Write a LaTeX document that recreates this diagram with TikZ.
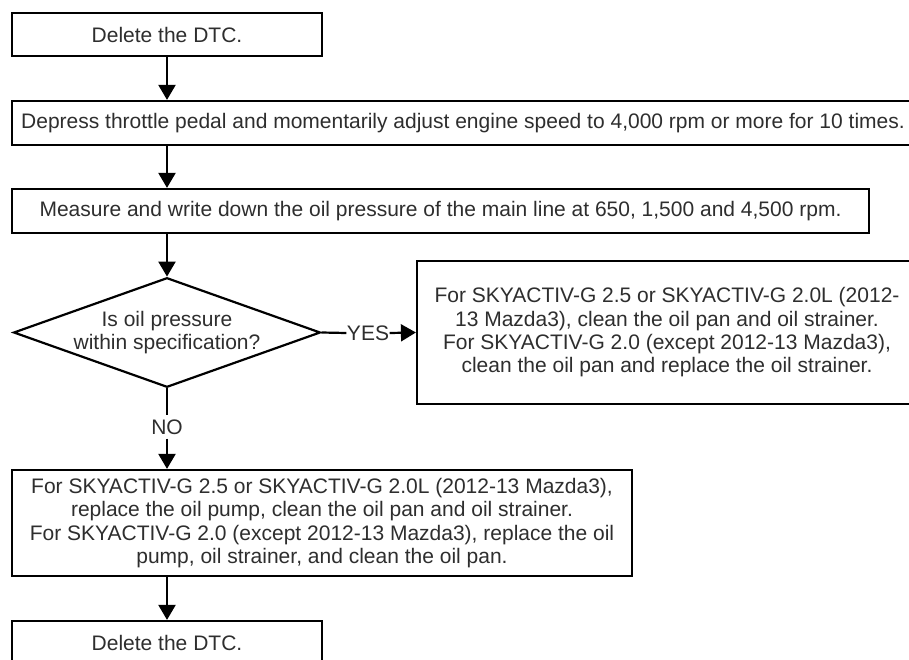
\documentclass[tikz,border=0pt]{standalone}
\usepackage{fontspec}
\setmainfont{Liberation Sans}
\usetikzlibrary{arrows.meta,shapes.geometric}
\definecolor{txt}{HTML}{2E2E2E}
\tikzset{
  every node/.style={font=\fontsize{21}{23.3}\selectfont, text=txt},
  stepbox/.style={draw=black, line width=2.2pt, rectangle, inner sep=0pt, align=center},
  decision/.style={draw=black, line width=2.2pt, diamond, inner sep=0pt, align=center, minimum width=306pt, minimum height=109pt, aspect=2.8},
  flow/.style={draw=black, line width=2.2pt, -{Triangle[width=17pt,length=15pt]}},
  plain/.style={draw=black, line width=2.2pt},
  lbl/.style={inner sep=0.5pt},
  nolbl/.style={inner sep=4pt}
}
\begin{document}
\begin{tikzpicture}[x=1pt,y=-1pt]
\useasboundingbox (0,0) rectangle (909,660);
\clip (0,0) rectangle (909,660);
\fill[white] (0,0) rectangle (909,660);

\node[stepbox, minimum width=310pt, minimum height=43pt] (b1) at (167,34.5) {Delete the DTC.};
\node[stepbox, minimum width=902pt, minimum height=44pt] (b2) at (463,123) {Depress throttle pedal and momentarily adjust engine speed to 4,000 rpm or more for 10 times.};
\node[stepbox, minimum width=857pt, minimum height=44pt] (b3) at (440.5,211) {Measure and write down the oil pressure of the main line at 650, 1,500 and 4,500 rpm.};
\node[decision] (d) at (167,332.5) {Is oil pressure\\within specification?};
\node[lbl] (yes) at (368,333) {YES};
\node[stepbox, minimum width=500pt, minimum height=143pt] (r) at (667,332.5) {For SKYACTIV-G 2.5 or SKYACTIV-G 2.0L (2012-\\13 Mazda3), clean the oil pan and oil strainer.\\For SKYACTIV-G 2.0 (except 2012-13 Mazda3),\\clean the oil pan and replace the oil strainer.};
\node[nolbl] (no) at (167,427) {NO};
\node[stepbox, minimum width=620pt, minimum height=106pt] (b4) at (322,523) {For SKYACTIV-G 2.5 or SKYACTIV-G 2.0L (2012-13 Mazda3),\\replace the oil pump, clean the oil pan and oil strainer.\\For SKYACTIV-G 2.0 (except 2012-13 Mazda3), replace the oil\\pump, oil strainer, and clean the oil pan.};
\node[stepbox, minimum width=310pt, minimum height=43pt] (b5) at (167,642.5) {Delete the DTC.};

\draw[flow] (b1.south) -- (b2.north -| b1.south);
\draw[flow] (b2.south -| b1.south) -- (b3.north -| b1.south);
\draw[flow] (b3.south -| d.north) -- (d.north);
\draw[plain] (d.east) -- (yes.west);
\draw[flow] (yes.east) -- (r.west);
\draw[plain] (d.south) -- (no.north);
\draw[flow] (no.south) -- (b4.north -| no.south);
\draw[flow] (b4.south -| b5.north) -- (b5.north);
\end{tikzpicture}
\end{document}
